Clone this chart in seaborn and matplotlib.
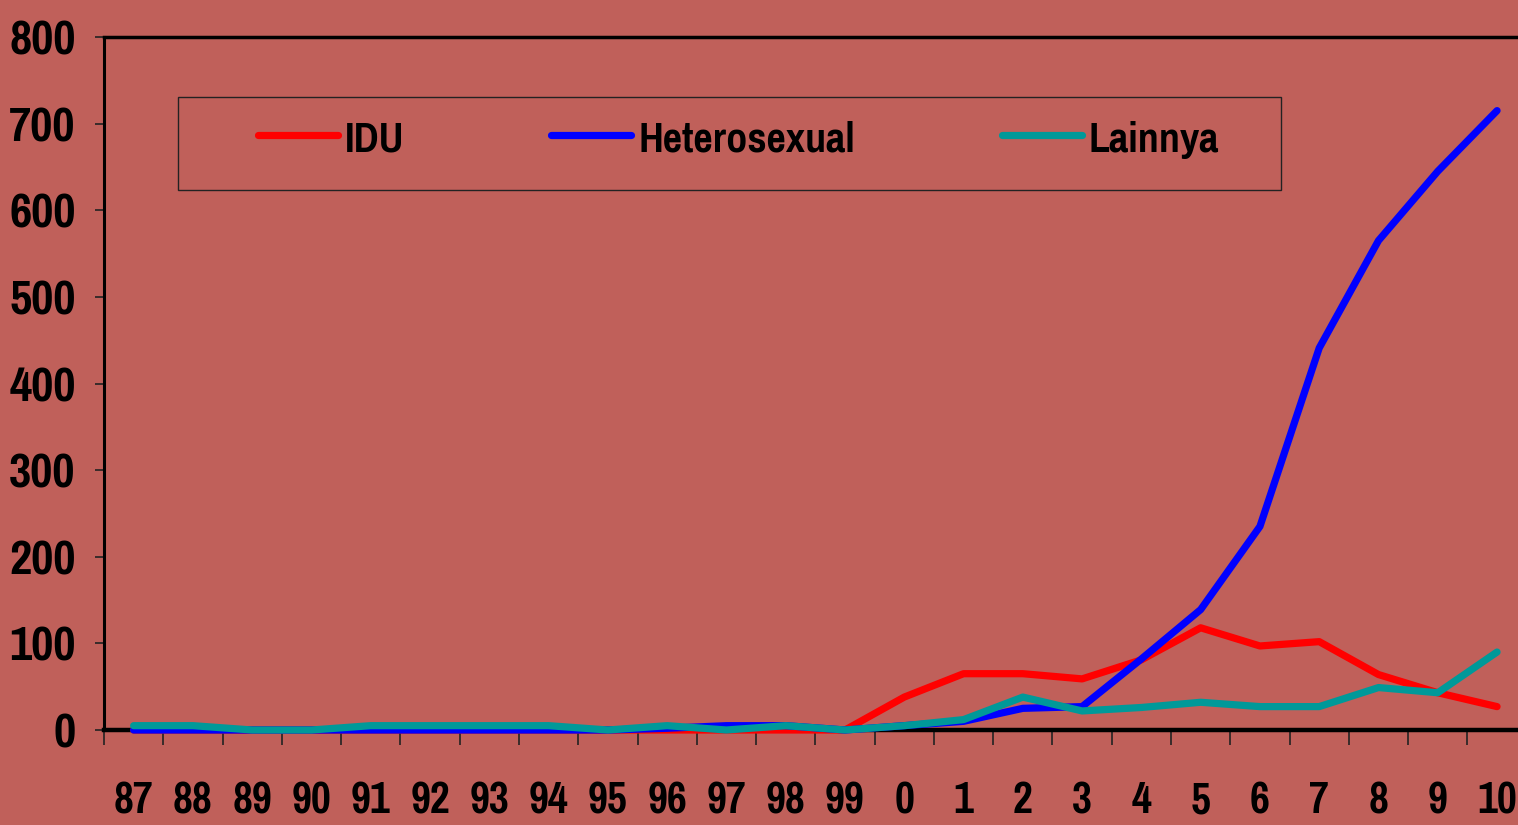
import matplotlib
matplotlib.use("Agg")
import matplotlib.pyplot as plt
import seaborn as sns
import pandas as pd
from matplotlib.ticker import FixedLocator
from matplotlib.patches import Rectangle
from matplotlib import font_manager

years = ["87", "88", "89", "90", "91", "92", "93", "94", "95", "96", "97", "98", "99",
         "0", "1", "2", "3", "4", "5", "6", "7", "8", "9", "10"]
idu = [0, 0, 0, 0, 0, 0, 0, 0, 0, 0, 0, 0, 0,
       38, 65, 65, 59, 81, 118, 97, 102, 64, 43, 27]
hetero = [0, 0, 0, 0, 0, 0, 0, 0, 0, 2, 5, 5, 0,
          5, 10, 25, 27, 82, 139, 235, 441, 565, 645, 715]
lainnya = [5, 5, 0, 0, 5, 5, 5, 5, 0, 5, 0, 5, 0,
           5, 12, 38, 22, 26, 32, 27, 27, 49, 43, 90]
series_names = ["IDU", "Heterosexual", "Lainnya"]
series_colors = ["#FF0000", "#0000FF", "#009999"]
y_ticks = [0, 100, 200, 300, 400, 500, 600, 700, 800]

df = pd.DataFrame({
    "year": years * 3,
    "pos": list(range(len(years))) * 3,
    "value": idu + hetero + lainnya,
    "series": [series_names[0]] * len(years) + [series_names[1]] * len(years) + [series_names[2]] * len(years),
})

# pick a narrow/condensed bold font if one is installed
narrow_fp = None
cands = []
for f in font_manager.fontManager.ttflist:
    nm = f.name.lower()
    fn = f.fname.lower()
    if ("narrow" in nm or "narrow" in fn or "condensed" in nm or "condensed" in fn
            or str(f.stretch).lower() in ("condensed", "semi-condensed", "extra-condensed")):
        score = 0
        if "liberation" in nm or "liberation" in fn:
            score += 10
        if "narrow" in nm or "narrow" in fn:
            score += 5
        if f.weight in ("bold", 700) or "bold" in fn:
            score += 3
        if "italic" in fn or "oblique" in fn or f.style != "normal":
            score -= 20
        cands.append((score, f.fname))
cands.sort(reverse=True)
if cands:
    narrow_fp = font_manager.FontProperties(fname=cands[0][1])
    scale = 1.0
else:
    scale = 0.8

BG = "#C0605A"
sns.set_theme(style="white")
plt.rcParams["font.family"] = ["Liberation Sans Narrow", "DejaVu Sans"]
plt.rcParams["font.weight"] = "bold"
plt.rcParams["text.color"] = "black"


def fp(size):
    if narrow_fp is not None:
        p = narrow_fp.copy()
        p.set_size(size * scale)
        p.set_weight("bold")
        return p
    return font_manager.FontProperties(family="DejaVu Sans", weight="bold", size=size * scale)


fig = plt.figure(figsize=(15.18, 8.25), dpi=100, facecolor=BG)
W, H = 1518, 825
ax = fig.add_axes([104 / W, (825 - 730) / H, (1526.7 - 104) / W, (730 - 37) / H])
ax.set_facecolor(BG)

sns.lineplot(data=df, x="pos", y="value", hue="series", hue_order=series_names,
             palette=series_colors, linewidth=5.2, ax=ax, legend=False, sort=False)
for ln in ax.get_lines():
    ln.set_solid_capstyle("round")
    ln.set_solid_joinstyle("round")
    ln.set_clip_on(False)
    ln.set_zorder(4)

ax.set_xlim(-0.5, len(years) - 0.5)
ax.set_ylim(0, 800)
ax.set_xticks(range(len(years)))
ax.set_xticklabels(years)
ax.xaxis.set_minor_locator(FixedLocator([i - 0.5 for i in range(len(years) + 1)]))
ax.set_yticks(y_ticks)
ax.set_yticklabels([str(v) for v in y_ticks])
ax.set_xlabel("")
ax.set_ylabel("")

ax.tick_params(axis="x", which="major", length=0, pad=37, labelcolor="black")
ax.tick_params(axis="x", which="minor", bottom=True, length=11, width=1.2, color="#222222", direction="out")
ax.tick_params(axis="y", which="major", left=True, length=6.5, width=1.2, color="#222222",
               pad=14, labelcolor="black")
for lab in ax.get_xticklabels():
    lab.set_fontproperties(fp(34))
for lab in ax.get_yticklabels():
    lab.set_fontproperties(fp(38))

for side in ["left", "top", "bottom"]:
    ax.spines[side].set_visible(True)
    ax.spines[side].set_color("black")
ax.spines["left"].set_linewidth(2.2)
ax.spines["top"].set_linewidth(2.5)
ax.spines["bottom"].set_linewidth(3.2)
ax.spines["right"].set_visible(False)

# legend
handles = [plt.Line2D([], [], color=c, linewidth=5.2, solid_capstyle="round") for c in series_colors]
leg = fig.legend(handles, series_names, loc="center left",
                 bbox_to_anchor=(258 / W, 1 - 139 / H), ncol=3, frameon=False,
                 handlelength=1.75, handletextpad=0.15, columnspacing=3.2,
                 borderpad=0, borderaxespad=0, prop=fp(33))
for t in leg.get_texts():
    t.set_color("black")
fig.add_artist(Rectangle((178 / W, 1 - 190 / H), (1281 - 178) / W, (190 - 97) / H,
                         transform=fig.transFigure, facecolor="none", edgecolor="#222222",
                         linewidth=1.0))

fig.savefig("out.png", dpi=100, facecolor=BG)
